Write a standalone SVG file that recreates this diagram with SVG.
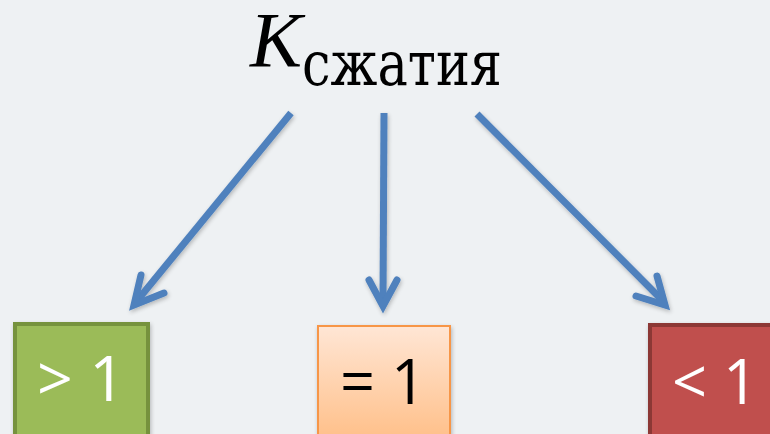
<svg xmlns="http://www.w3.org/2000/svg" width="770" height="434" viewBox="0 0 770 434">
<defs>
<linearGradient id="og" x1="0" y1="0" x2="0" y2="1">
<stop offset="0" stop-color="#FFE6D5"/>
<stop offset="1" stop-color="#FFBF88"/>
</linearGradient>
<filter id="sh" x="-20%" y="-20%" width="140%" height="140%">
<feGaussianBlur in="SourceAlpha" stdDeviation="2"/>
<feOffset dx="1" dy="2"/>
<feComponentTransfer><feFuncA type="linear" slope="0.25"/></feComponentTransfer>
<feMerge><feMergeNode/><feMergeNode in="SourceGraphic"/></feMerge>
</filter>
<style>
.ln{stroke:#4F81BD;stroke-width:7;fill:none;stroke-linecap:butt}
.hd{stroke:#4F81BD;stroke-width:7;fill:none;stroke-linecap:round;stroke-linejoin:miter}
.lbl{font-family:"Open Sans","Liberation Sans",sans-serif;font-size:62px;text-anchor:middle}
</style>
</defs>
<rect width="770" height="434" fill="#EEF1F3"/>
<g id="title">
<text x="250" y="66" font-family="'Liberation Serif','DejaVu Serif',serif" font-style="italic" font-size="78" fill="#000">K</text>
<text x="302" y="85" font-family="'DejaVu Serif','Liberation Serif',serif" font-size="62" textLength="200" lengthAdjust="spacingAndGlyphs" fill="#000">сжатия</text>
</g>
<g id="connectors" filter="url(#sh)">
<line class="ln" x1="291" y1="113" x2="136" y2="302"/>
<polyline class="hd" points="141,275 134,305 164,293"/>
<line class="ln" x1="384" y1="113" x2="383" y2="302"/>
<polyline class="hd" points="369,280 383,306 397,280"/>
<line class="ln" x1="477" y1="114" x2="664" y2="302"/>
<polyline class="hd" points="657,276 665,305 636,296"/>
</g>
<g id="node-gt">
<rect x="15" y="324" width="133" height="115" fill="#9BBB59" stroke="#76923C" stroke-width="4" filter="url(#sh)"/>
<text class="lbl" x="81" y="401" fill="#FFFFFF" textLength="88" lengthAdjust="spacingAndGlyphs">&gt; 1</text>
</g>
<g id="node-eq">
<rect x="318" y="326" width="132" height="115" fill="url(#og)" stroke="#F79646" stroke-width="2" filter="url(#sh)"/>
<text class="lbl" x="383" y="404" fill="#000000" textLength="86" lengthAdjust="spacingAndGlyphs">= 1</text>
</g>
<g id="node-lt">
<rect x="650" y="325" width="125" height="115" fill="#C0504D" stroke="#8C3836" stroke-width="4" filter="url(#sh)"/>
<text class="lbl" x="715" y="404" fill="#FFFFFF" textLength="86" lengthAdjust="spacingAndGlyphs">&lt; 1</text>
</g>
</svg>
